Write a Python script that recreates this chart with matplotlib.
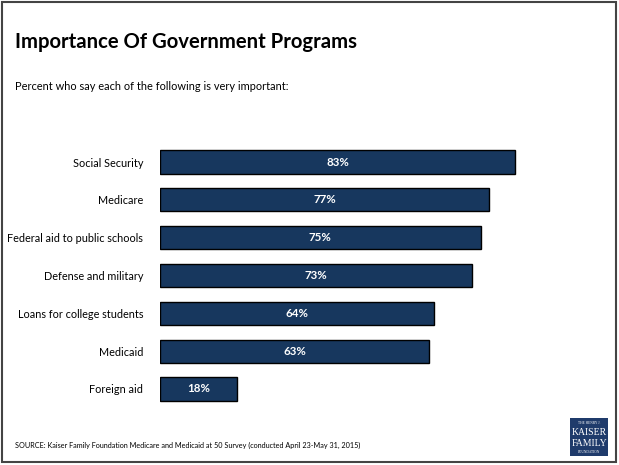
import matplotlib.pyplot as plt
from matplotlib.patches import Rectangle

categories = ["Social Security", "Medicare", "Federal aid to public schools",
              "Defense and military", "Loans for college students",
              "Medicaid", "Foreign aid"]
values = [83, 77, 75, 73, 64, 63, 18]

W, H = 619, 465
bar_color = "#17375e"
font = "Lato"

fig = plt.figure(figsize=(W / 100, H / 100), dpi=100)
fig.patch.set_facecolor("white")

# outer frame
fig.patches.append(Rectangle((1.5 / W, 3.5 / H), 614 / W, 459 / H, transform=fig.transFigure,
                             fill=False, edgecolor="#444444", linewidth=1.5))

# axes placed in pixel terms
left, right = 160, 160 + 427.7
top, bottom = 143.1, 407.9
ax = fig.add_axes([left / W, 1 - bottom / H, (right - left) / W, (bottom - top) / H])

ypos = list(range(len(categories)))
ax.barh(ypos, values, height=0.61, color=bar_color, edgecolor="black", linewidth=1)
for y, v in zip(ypos, values):
    ax.text(v / 2, y, f"{v}%", ha="center", va="center", color="white",
            fontsize=8.3, fontweight="bold", family=font)

ax.set_xlim(0, 100)
ax.set_ylim(len(categories) - 0.5, -0.5)
ax.set_yticks(ypos)
ax.set_yticklabels(categories, fontsize=7.8, family=font)
ax.tick_params(axis="y", length=0, pad=12)
ax.set_xticks([])
for s in ax.spines.values():
    s.set_visible(False)

fig.text(15 / W, 1 - 42 / H, "Importance Of Government Programs", fontsize=14.6,
         fontweight="bold", family=font, va="center", ha="left")
fig.text(15 / W, 1 - 86 / H, "Percent who say each of the following is very important:",
         fontsize=7.9, family=font, va="center", ha="left")
fig.text(15 / W, 1 - 445 / H,
         "SOURCE: Kaiser Family Foundation Medicare and Medicaid at 50 Survey (conducted April 23-May 31, 2015)",
         fontsize=5.2, family=font, va="center", ha="left")

# logo box
lx, ly, lw, lh = 570, 418, 38, 38
fig.patches.append(Rectangle((lx / W, 1 - (ly + lh) / H), lw / W, lh / H, transform=fig.transFigure,
                             facecolor="#1f3b6b", edgecolor="none"))
cx = (lx + lw / 2) / W
fig.text(cx, 1 - 423 / H, "THE HENRY J.", color="white", fontsize=2.5, family="Liberation Serif",
         ha="center", va="center")
fig.text(cx, 1 - 432 / H, "KAISER", color="white", fontsize=7, family="Liberation Serif",
         ha="center", va="center")
fig.text(cx, 1 - 443 / H, "FAMILY", color="white", fontsize=7, family="Liberation Serif",
         ha="center", va="center")
fig.text(cx, 1 - 452 / H, "FOUNDATION", color="white", fontsize=2.5, family="Liberation Serif",
         ha="center", va="center")

fig.savefig("out.png", dpi=100)
